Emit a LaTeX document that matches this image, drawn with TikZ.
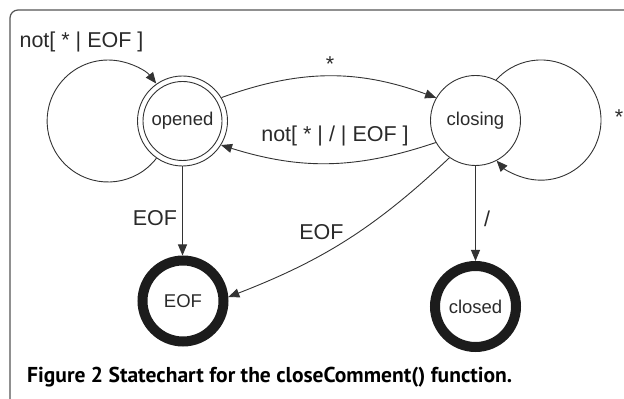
\documentclass[tikz,border=0pt]{standalone}
\usepackage{fontspec}
\setmainfont{Liberation Sans}
\newfontfamily\capfont{PT Sans}
\usetikzlibrary{arrows.meta}
\definecolor{linec}{HTML}{333333}
\definecolor{ringc}{HTML}{1C1C1C}
\definecolor{txt}{HTML}{2A2A2A}
\definecolor{framec}{HTML}{555555}
\begin{document}
\begin{tikzpicture}[x=1pt,y=1pt,
  state/.style={circle, draw=linec, line width=0.9pt, minimum size=90pt, inner sep=0pt,
    font=\fontsize{18.5}{20}\selectfont, text=txt},
  final/.style={circle, draw=ringc, line width=10pt, minimum size=81pt, inner sep=0pt,
    font=\fontsize{18.5}{20}\selectfont, text=txt},
  arr/.style={draw=linec, line width=0.9pt, -{Triangle[length=11pt,width=9pt]}},
  lbl/.style={font=\fontsize{21.5}{24}\selectfont, text=txt, inner sep=0pt, anchor=base},
  frame/.style={draw=framec, line width=1.2pt, rounded corners=8pt}]
\useasboundingbox (0,0) rectangle (624,399);
\draw[frame] (10,-10) -- (10,389) -- (640,389);

\node[state] (opened) at (182.5,278) {opened};
\draw[linec, line width=0.9pt] (opened.center) circle (39.5pt);
\node[state] (closing) at (475.5,278.5) {closing};
\node[final] (eof) at (183,98) {EOF};
\node[final] (closed) at (475.5,92.5) {closed};

% self loops
\draw[arr] (opened.235) arc[start angle=-37.6, end angle=-322, radius=61pt];
\draw[arr] (closing.63) arc[start angle=138.2, end angle=-137.5, radius=60.1pt];

% transitions
\draw[arr] (opened.31) to[bend left=20] (closing.150);
\draw[arr] (closing.209) to[bend left=18] (opened.328);
\draw[arr] (opened.south) -- (opened.south |- eof.north);
\draw[arr] (closing.235) to[bend left=11] (eof.5);
\draw[arr] (closing.south) -- (closing.south |- closed.north);

% labels
\node[lbl] (l1) at (81.5,351) {not[ * | EOF ]};
\node[lbl] (l2) at (330,327) {*};
\node[lbl] (l3) at (335,257) {not[ * | / | EOF ]};
\node[lbl] (l4) at (155,173) {EOF};
\node[lbl] (l5) at (321.5,159) {EOF};
\node[lbl] (l6) at (487,172) {/};
\node[lbl] (l7) at (619,274) {*};

% caption
\node[anchor=base west, inner sep=0pt, text=black] (cap) at (27,16)
  {\resizebox{485pt}{!}{\capfont\fontsize{17.5}{20}\selectfont\bfseries Figure 2 Statechart for the closeComment() function.}};
\end{tikzpicture}
\end{document}
